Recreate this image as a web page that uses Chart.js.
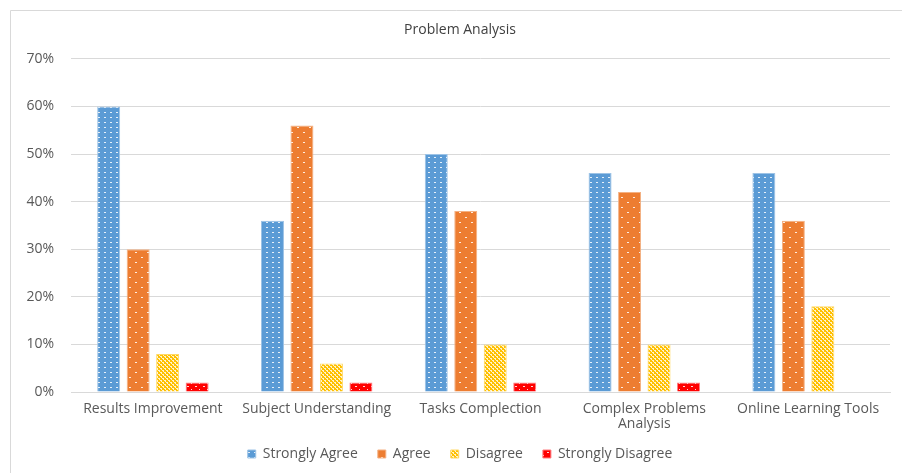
<!DOCTYPE html>
<html>
<head>
<meta charset="utf-8">
<script src="https://cdn.jsdelivr.net/npm/chart.js@4/dist/chart.umd.min.js"></script>
<style>
  html, body { margin: 0; padding: 0; background: #ffffff; }
  #wrap { width: 902px; height: 473px; position: relative; }
</style>
</head>
<body>
<div id="wrap"><canvas id="c" width="902" height="473"></canvas></div>
<script>
const categories = ["Results Improvement", "Subject Understanding", "Tasks Complection", ["Complex Problems", "Analysis"], "Online Learning Tools"];
const seriesNames = ["Strongly Agree", "Agree", "Disagree", "Strongly Disagree"];
const stronglyAgree = [60, 36, 50, 46, 46];
const agree = [30, 56, 38, 42, 36];
const disagree = [8, 6, 10, 10, 18];
const stronglyDisagree = [2, 2, 2, 2, 0];
const titleText = "Problem Analysis";

function makePattern(bg, w, h, dots, dotColor) {
  const c = document.createElement('canvas');
  c.width = w; c.height = h;
  const x = c.getContext('2d');
  x.fillStyle = bg; x.fillRect(0, 0, w, h);
  x.fillStyle = dotColor;
  dots.forEach(d => x.fillRect(d[0], d[1], d[2], d[3]));
  return x.createPattern(c, 'repeat');
}
const ctx = document.getElementById('c').getContext('2d');
const pBlue = makePattern('#5B9BD5', 6, 5, [[2, 2, 2, 1]], 'rgba(255,255,255,0.85)');
const pOrange = makePattern('#ED7D31', 12, 10, [[3, 2, 2, 1], [9, 7, 2, 1]], 'rgba(255,255,255,0.85)');
const pYellow = makePattern('#FFC000', 4, 4, [[0, 0, 2, 1], [2, 2, 2, 1], [1, 1, 1, 1], [3, 3, 1, 1]], 'rgba(255,255,255,0.8)');
const pRed = makePattern('#FF0000', 8, 6, [[3, 2, 2, 1], [7, 5, 1, 1]], 'rgba(255,255,255,0.85)');

const frame = {
  id: 'frame',
  beforeDraw(chart) {
    const g = chart.ctx;
    g.save();
    g.fillStyle = '#ffffff';
    g.fillRect(0, 0, chart.width, chart.height);
    g.strokeStyle = '#d9d9d9';
    g.lineWidth = 1;
    g.beginPath();
    g.moveTo(10.5, chart.height);
    g.lineTo(10.5, 10.5);
    g.lineTo(chart.width, 10.5);
    g.stroke();
    g.restore();
  },
  afterLayout(chart) {
    if (chart.legend) { chart.legend.left += 10; chart.legend.right += 10; }
    if (chart.titleBlock) { chart.titleBlock.left += 10; chart.titleBlock.right += 10; }
    if (chart.scales.x) { chart.scales.x.bottom += 16; }
  }
};

const fontFam = "'Open Sans', 'Liberation Sans', sans-serif";
new Chart(ctx, {
  type: 'bar',
  data: {
    labels: categories,
    datasets: [
      { label: seriesNames[0], data: stronglyAgree, backgroundColor: pBlue, borderColor: '#9DC3E6', borderWidth: 1 },
      { label: seriesNames[1], data: agree, backgroundColor: pOrange, borderColor: '#F4B183', borderWidth: 1 },
      { label: seriesNames[2], data: disagree, backgroundColor: pYellow, borderColor: '#FFD966', borderWidth: 1 },
      { label: seriesNames[3], data: stronglyDisagree, backgroundColor: pRed, borderColor: '#FF7C80', borderWidth: 1 }
    ]
  },
  options: {
    responsive: false,
    animation: false,
    devicePixelRatio: 1,
    layout: { padding: { left: 10, right: 12, top: 10, bottom: 2 } },
    datasets: { bar: { categoryPercentage: 0.72, barPercentage: 0.78 } },
    plugins: {
      title: { display: true, text: titleText, color: '#404040', font: { family: fontFam, size: 14, weight: 'normal' }, padding: { top: 12, bottom: 20 } },
      legend: {
        position: 'bottom',
        labels: { boxWidth: 8, boxHeight: 8, padding: 20, color: '#595959', font: { family: fontFam, size: 14 } }
      },
      tooltip: { enabled: false }
    },
    scales: {
      x: {
        grid: { display: false, drawTicks: false },
        border: { display: true, color: '#d9d9d9' },
        ticks: { color: '#595959', font: { family: fontFam, size: 14, lineHeight: 1.1 }, padding: 9, maxRotation: 0, autoSkip: false },
        afterFit(s) { s.height = 35; }
      },
      y: {
        min: 0, max: 70,
        grid: { color: '#d9d9d9', drawTicks: false },
        border: { display: false },
        ticks: { stepSize: 10, color: '#595959', font: { family: fontFam, size: 14 }, padding: 17, callback: v => v + '%' },
        afterFit(s) { s.width = 61; }
      }
    }
  },
  plugins: [frame]
});
</script>
</body>
</html>
